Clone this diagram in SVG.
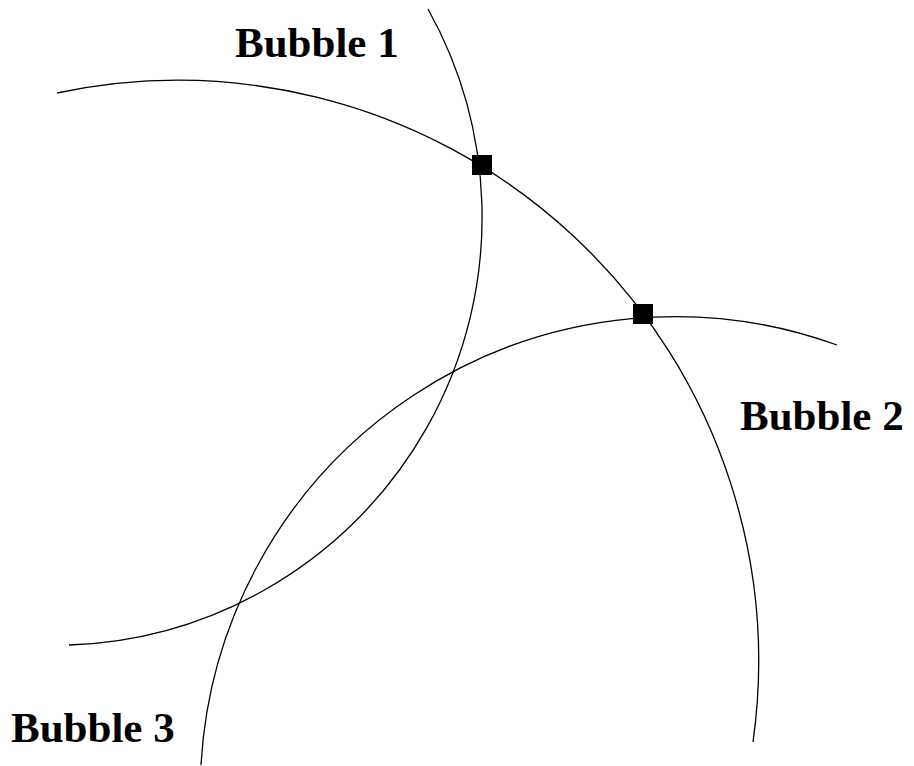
<svg xmlns="http://www.w3.org/2000/svg" width="914" height="766" viewBox="0 0 914 766">
<style>
.arc{fill:none;stroke:#000;stroke-width:1.3}
.lbl{font-family:"Liberation Serif","Times New Roman",serif;font-weight:bold;font-size:43px;fill:#000}
.pt{fill:#000}
</style>
<rect width="914" height="766" fill="#fff"/>
<g id="connectors">
<path id="arc1" class="arc" d="M 428 9 A 428 428 0 0 1 69 645"/>
<path id="arc2" class="arc" d="M 57 93 A 581 581 0 0 1 753 742"/>
<path id="arc3" class="arc" d="M 837 345 A 475 475 0 0 0 201 765"/>
</g>
<g id="bubble1"><text class="lbl" x="235" y="57">Bubble 1</text></g>
<g id="bubble2"><text class="lbl" x="740" y="430">Bubble 2</text></g>
<g id="bubble3"><text class="lbl" x="11" y="742">Bubble 3</text></g>
<g id="junction1"><rect class="pt" x="472" y="155" width="20" height="20"/></g>
<g id="junction2"><rect class="pt" x="633" y="304" width="20" height="20"/></g>
</svg>
